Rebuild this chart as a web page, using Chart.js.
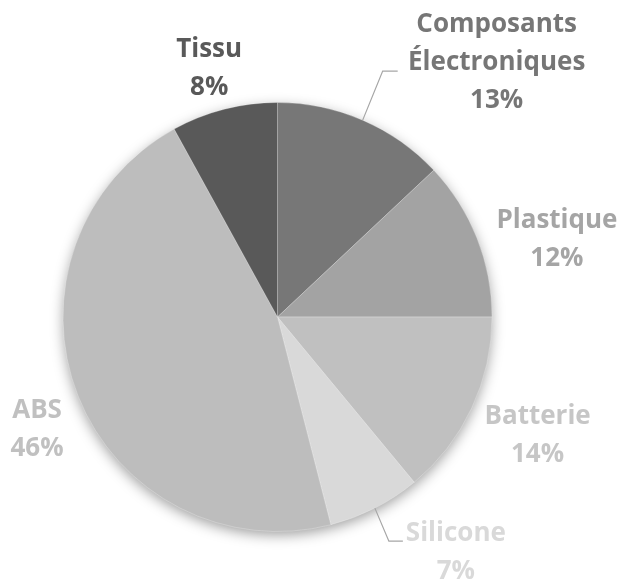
<!DOCTYPE html>
<meta charset="utf-8">
<head>
  <title>Matériaux</title>
  <style>
    html, body { margin: 0; padding: 0; background: #fff; }
    .container { width: 617px; height: 583px; position: relative; }
  </style>
</head>
<body>
  <div class="container">
    <canvas id="chart"></canvas>
  </div>

<script src="https://cdn.jsdelivr.net/npm/chart.js@4.4.1/dist/chart.umd.min.js"></script>
<script>
  // data, clockwise from 12 o'clock
  var categories = ['Composants Électroniques', 'Plastique', 'Batterie', 'Silicone', 'ABS', 'Tissu'];
  var labelLines = [['Composants', 'Électroniques'], ['Plastique'], ['Batterie'], ['Silicone'], ['ABS'], ['Tissu']];
  var shares = [13, 12, 14, 7, 46, 8];

  var sliceColors = ['#777777', '#a3a3a3', '#c0c0c0', '#d9d9d9', '#bdbdbd', '#595959'];
  var textColors  = ['#767676', '#a5a5a5', '#c6c6c6', '#d9d9d9', '#c0c0c0', '#595959'];

  // label placement relative to the outer middle point of each slice
  var labelShift = [[134, -58], [80, 2], [66, 27], [81, 44], [-41, 34], [-15, -41]];
  // leader lines: [elbow dx, elbow dy, end dx]
  var leaders = { 0: [20, -49, 35], 3: [14, 33, 28] };

  var pieShadow = {
    id: 'pieShadow',
    beforeDatasetsDraw: function(chart) {
      var arc = chart.getDatasetMeta(0).data[0];
      if (!arc) return;
      var ctx = chart.ctx;
      ctx.save();
      ctx.shadowColor = 'rgba(0,0,0,0.4)';
      ctx.shadowBlur = 14;
      ctx.shadowOffsetY = 4;
      ctx.fillStyle = '#bbbbbb';
      ctx.beginPath();
      ctx.arc(arc.x, arc.y, arc.outerRadius - 1, 0, Math.PI * 2);
      ctx.fill();
      ctx.restore();
    }
  };

  var outsideLabels = {
    id: 'outsideLabels',
    afterDatasetsDraw: function(chart) {
      var ctx = chart.ctx;
      var meta = chart.getDatasetMeta(0);
      ctx.save();
      ctx.font = 'bold 26px "Open Sans"';
      ctx.textAlign = 'center';
      ctx.textBaseline = 'middle';
      meta.data.forEach(function(arc, i) {
        var mid = (arc.startAngle + arc.endAngle) / 2;
        var px = arc.x + Math.cos(mid) * arc.outerRadius;
        var py = arc.y + Math.sin(mid) * arc.outerRadius;

        if (leaders[i]) {
          var l = leaders[i];
          ctx.strokeStyle = '#a6a6a6';
          ctx.lineWidth = 1.2;
          ctx.beginPath();
          ctx.moveTo(px, py);
          ctx.lineTo(px + l[0], py + l[1]);
          ctx.lineTo(px + l[2], py + l[1]);
          ctx.stroke();
        }

        var lines = labelLines[i].concat([shares[i] + '%']);
        var lh = 38;
        var cx = px + labelShift[i][0];
        var cy = py + labelShift[i][1] - (lines.length - 1) * lh / 2;
        ctx.fillStyle = textColors[i];
        lines.forEach(function(t, k) {
          ctx.fillText(t, cx, cy + k * lh);
        });
      });
      ctx.restore();
    }
  };

  var chart = new Chart('chart', {
    type: 'pie',
    data: {
      labels: categories,
      datasets: [{
        data: shares,
        backgroundColor: sliceColors,
        borderColor: 'rgba(255,255,255,0.25)',
        borderWidth: 1
      }]
    },
    options: {
      responsive: true,
      maintainAspectRatio: false,
      animation: false,
      layout: { padding: { left: 62, right: 124, top: 102, bottom: 51 } },
      plugins: {
        legend: { display: false },
        tooltip: { enabled: false }
      }
    },
    plugins: [pieShadow, outsideLabels]
  });
</script>
</body>
